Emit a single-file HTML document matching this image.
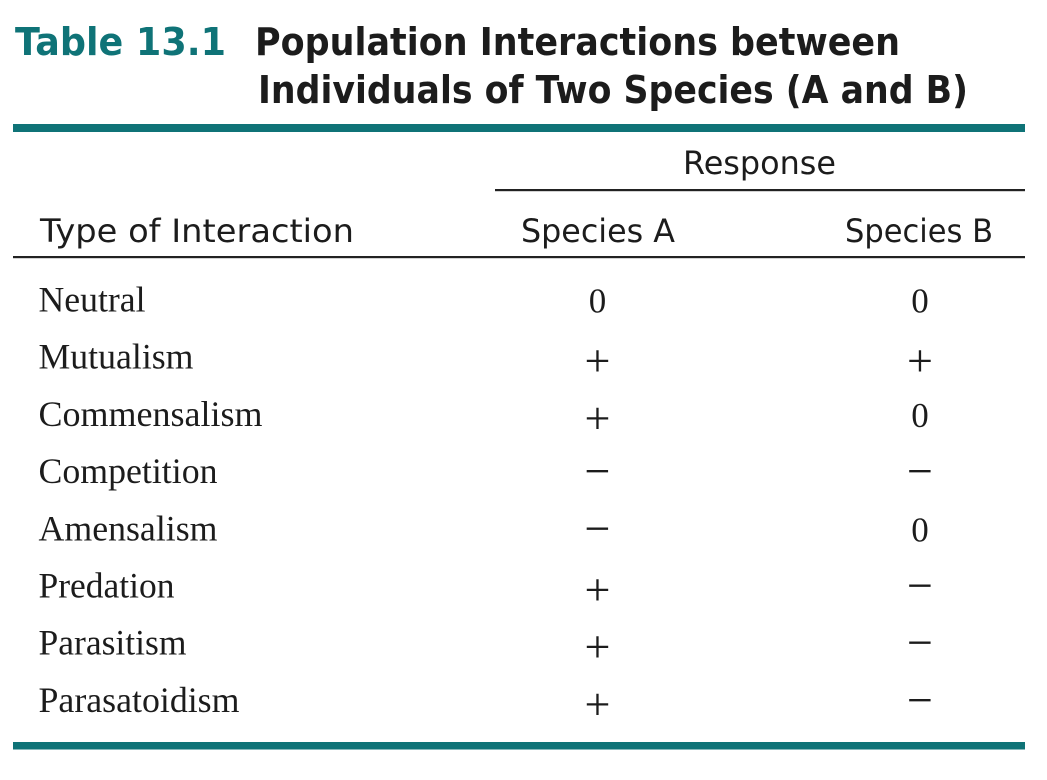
<!DOCTYPE html>
<html>
<head>
<meta charset="utf-8">
<style>
  html, body { margin: 0; padding: 0; background: #ffffff; }
  body { width: 1047px; height: 780px; overflow: hidden; }
  svg { display: block; }
  .title { font-family: "DejaVu Sans", "Liberation Sans", sans-serif; font-weight: bold; font-size: 38px; }
  .head { font-family: "DejaVu Sans", "Liberation Sans", sans-serif; font-size: 32px; fill: #1c1c1c; }
  .row { font-family: "Liberation Serif", "DejaVu Serif", serif; font-size: 35.5px; fill: #1c1c1c; }
  .sym { font-family: "Liberation Serif", "DejaVu Serif", serif; font-size: 46px; fill: #1c1c1c; }
  .zero { font-family: "Liberation Serif", "DejaVu Serif", serif; font-size: 35px; fill: #1c1c1c; }
</style>
</head>
<body>
<svg width="1047" height="780" viewBox="0 0 1047 780" xmlns="http://www.w3.org/2000/svg">
  <rect x="0" y="0" width="1047" height="780" fill="#ffffff"/>

  <!-- Title -->
  <text class="title" x="15" y="55" fill="#0f7377" textLength="211" lengthAdjust="spacingAndGlyphs">Table 13.1</text>
  <text class="title" x="255" y="55" fill="#1c1c1c" textLength="645" lengthAdjust="spacingAndGlyphs">Population Interactions between</text>
  <text class="title" x="258" y="103" fill="#1c1c1c" textLength="710" lengthAdjust="spacingAndGlyphs">Individuals of Two Species (A and B)</text>

  <!-- Top teal bar -->
  <rect x="13" y="124" width="1012" height="8" fill="#0f7377"/>

  <!-- Header -->
  <text class="head" x="683" y="174" textLength="153" lengthAdjust="spacingAndGlyphs">Response</text>
  <rect x="495" y="189" width="530" height="2.2" fill="#222"/>
  <text class="head" x="40" y="242" textLength="314" lengthAdjust="spacingAndGlyphs">Type of Interaction</text>
  <text class="head" x="521" y="242" textLength="154" lengthAdjust="spacingAndGlyphs">Species A</text>
  <text class="head" x="845" y="242" textLength="148" lengthAdjust="spacingAndGlyphs">Species B</text>
  <rect x="13" y="256" width="1012" height="2.2" fill="#222"/>

  <!-- Row labels -->
  <text class="row" x="38.5" y="311.5" textLength="107" lengthAdjust="spacingAndGlyphs">Neutral</text>
  <text class="row" x="38.5" y="368.7" textLength="155" lengthAdjust="spacingAndGlyphs">Mutualism</text>
  <text class="row" x="38.5" y="425.9" textLength="224" lengthAdjust="spacingAndGlyphs">Commensalism</text>
  <text class="row" x="38.5" y="483.1" textLength="179" lengthAdjust="spacingAndGlyphs">Competition</text>
  <text class="row" x="38.5" y="540.3" textLength="179" lengthAdjust="spacingAndGlyphs">Amensalism</text>
  <text class="row" x="38.5" y="597.5" textLength="136" lengthAdjust="spacingAndGlyphs">Predation</text>
  <text class="row" x="38.5" y="654.7" textLength="148" lengthAdjust="spacingAndGlyphs">Parasitism</text>
  <text class="row" x="38.5" y="711.9" textLength="201" lengthAdjust="spacingAndGlyphs">Parasatoidism</text>

  <!-- Species A column (center 597.5) -->
  <text class="zero" x="597.5" y="312.5" text-anchor="middle">0</text>
  <text class="sym" x="597.5" y="376.2" text-anchor="middle">+</text>
  <text class="sym" x="597.5" y="433.4" text-anchor="middle">+</text>
  <text class="sym" x="597.5" y="486.6" text-anchor="middle">−</text>
  <text class="sym" x="597.5" y="543.8" text-anchor="middle">−</text>
  <text class="sym" x="597.5" y="605" text-anchor="middle">+</text>
  <text class="sym" x="597.5" y="662.2" text-anchor="middle">+</text>
  <text class="sym" x="597.5" y="719.4" text-anchor="middle">+</text>

  <!-- Species B column (center 920) -->
  <text class="zero" x="920" y="312.5" text-anchor="middle">0</text>
  <text class="sym" x="920" y="376.2" text-anchor="middle">+</text>
  <text class="zero" x="920" y="426.9" text-anchor="middle">0</text>
  <text class="sym" x="920" y="486.6" text-anchor="middle">−</text>
  <text class="zero" x="920" y="541.3" text-anchor="middle">0</text>
  <text class="sym" x="920" y="601" text-anchor="middle">−</text>
  <text class="sym" x="920" y="658.2" text-anchor="middle">−</text>
  <text class="sym" x="920" y="715.4" text-anchor="middle">−</text>

  <!-- Bottom teal bar -->
  <rect x="13" y="742" width="1012" height="7.5" fill="#0f7377"/>
</svg>
</body>
</html>
